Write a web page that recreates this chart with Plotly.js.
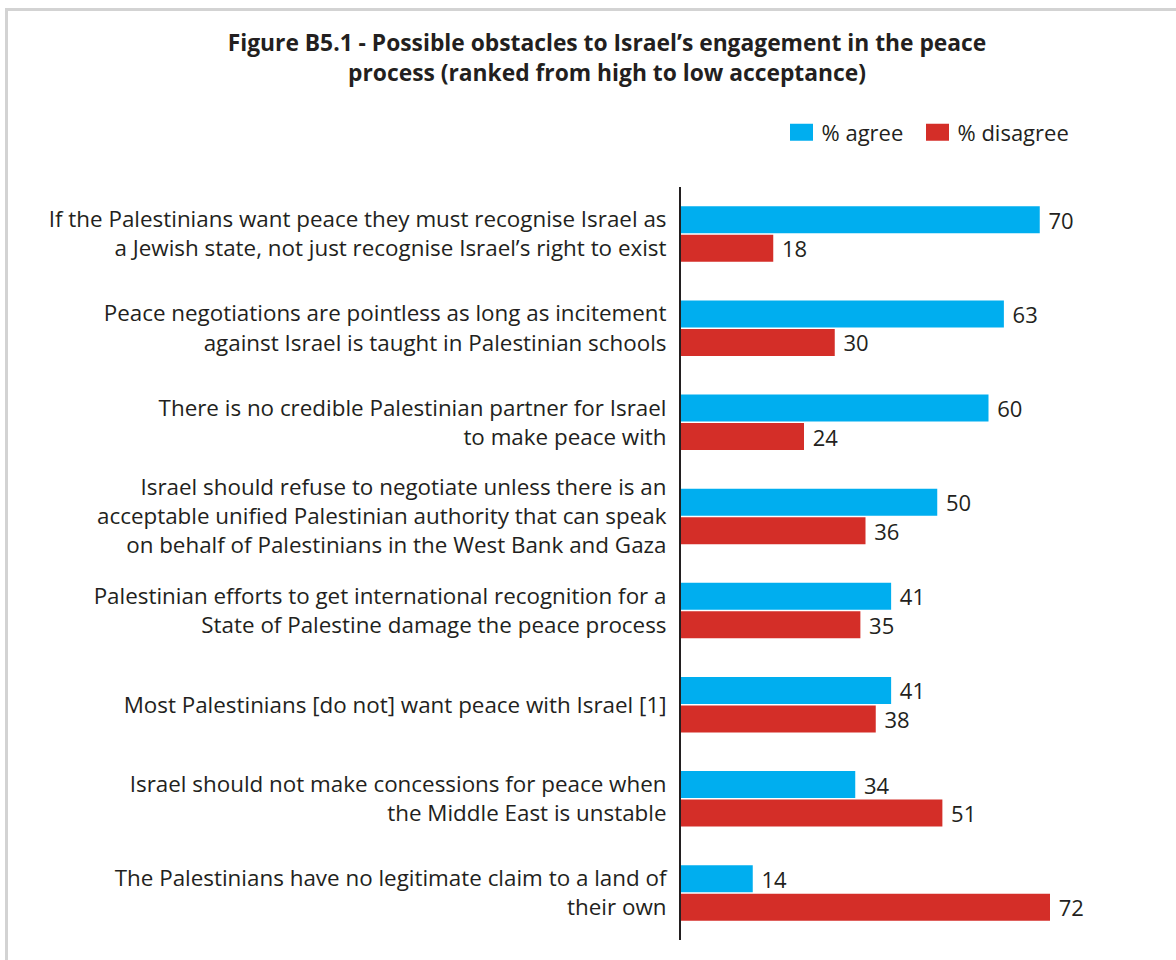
<!DOCTYPE html>
<html>
<head>
<meta charset="utf-8">
<script src="https://cdn.plot.ly/plotly-3.0.1.min.js"></script>
<style>
  html, body { margin: 0; padding: 0; background: #ffffff; }
  #wrap { position: relative; width: 1176px; height: 960px; overflow: hidden; }
  #chart { position: absolute; left: 0; top: 0; width: 1176px; height: 960px; }
  #frame { position: absolute; left: 5px; top: 8px; width: 1200px; height: 1000px;
           border-top: 3px solid #d3d3d3; border-left: 3px solid #d3d3d3; pointer-events: none; }
</style>
</head>
<body>
<div id="wrap">
  <div id="chart"></div>
  <div id="frame"></div>
</div>
<script>
const categories = [
  "If the Palestinians want peace they must recognise Israel as<br>a Jewish state, not just recognise Israel’s right to exist",
  "Peace negotiations are pointless as long as incitement<br>against Israel is taught in Palestinian schools",
  "There is no credible Palestinian partner for Israel<br>to make peace with",
  "Israel should refuse to negotiate unless there is an<br>acceptable unified Palestinian authority that can speak<br>on behalf of Palestinians in the West Bank and Gaza",
  "Palestinian efforts to get international recognition for a<br>State of Palestine damage the peace process",
  "Most Palestinians [do not] want peace with Israel [1]",
  "Israel should not make concessions for peace when<br>the Middle East is unstable",
  "The Palestinians have no legitimate claim to a land of<br>their own"
];
const agreeValues    = [70, 63, 60, 50, 41, 41, 34, 14];
const disagreeValues = [18, 30, 24, 36, 35, 38, 51, 72];
const seriesNames = ["% agree", "% disagree"];

const FONT = "Open Sans, Noto Sans, sans-serif";
const TXT = "#231f20";
const FS = 22;

const traces = [
  {
    type: "bar", orientation: "h", name: seriesNames[0], legend: "legend",
    y: categories, x: agreeValues,
    marker: { color: "#00aeef" },
    text: agreeValues.map(String),
    texttemplate: "\u00a0%{text}",
    textposition: "outside", cliponaxis: false, constraintext: "none",
    textfont: { family: FONT, size: FS, color: TXT },
    hoverinfo: "x+name"
  },
  {
    type: "bar", orientation: "h", name: seriesNames[1], legend: "legend2",
    y: categories, x: disagreeValues,
    marker: { color: "#d42e28" },
    text: disagreeValues.map(String),
    texttemplate: "\u00a0%{text}",
    textposition: "outside", cliponaxis: false, constraintext: "none",
    textfont: { family: FONT, size: FS, color: TXT },
    hoverinfo: "x+name"
  }
];

const legendBase = {
  orientation: "h", xanchor: "left",
  y: (940 - 111.5) / 753, yanchor: "top",
  font: { family: FONT, size: FS, color: TXT },
  bgcolor: "rgba(0,0,0,0)",
  itemclick: false, itemdoubleclick: false
};

const layout = {
  width: 1176, height: 960,
  paper_bgcolor: "rgba(0,0,0,0)", plot_bgcolor: "rgba(0,0,0,0)",
  margin: { l: 681, r: 85, t: 187, b: 20, pad: 0 },
  font: { family: FONT, color: TXT, size: FS },
  title: {
    text: "<b>Figure B5.1 - Possible obstacles to Israel’s engagement in the peace<br>process (ranked from high to low acceptance)</b>",
    font: { family: FONT, size: 22.8, color: TXT },
    x: 607 / 1176, xanchor: "center", xref: "container",
    y: 1 - 51 / 960, yanchor: "top", yref: "container"
  },
  barmode: "group",
  bargap: 0.394,
  bargroupgap: 0.053,
  showlegend: true,
  legend: Object.assign({}, legendBase, { x: (781.5 - 681) / 410 }),
  legend2: Object.assign({}, legendBase, { x: (917.5 - 681) / 410 }),
  xaxis: {
    range: [0, 80], showgrid: false, zeroline: false, showline: false,
    showticklabels: false, ticks: "", fixedrange: true
  },
  yaxis: {
    type: "category", autorange: "reversed",
    showgrid: false, zeroline: false,
    showline: true, linecolor: "#231f20", linewidth: 2,
    ticks: "", ticklabelstandoff: 8,
    tickfont: { family: FONT, size: 22.4, color: TXT },
    fixedrange: true
  }
};

const gd = document.getElementById("chart");
function bigSwatches() {
  gd.querySelectorAll(".legendpoints path").forEach(function (p) {
    p.setAttribute("d", "M11.5,8.5H-11.5V-8.5H11.5Z");
  });
}
Plotly.newPlot(gd, traces, layout, { displayModeBar: false, responsive: false }).then(function () {
  bigSwatches();
  gd.on("plotly_afterplot", bigSwatches);
});
</script>
</body>
</html>
